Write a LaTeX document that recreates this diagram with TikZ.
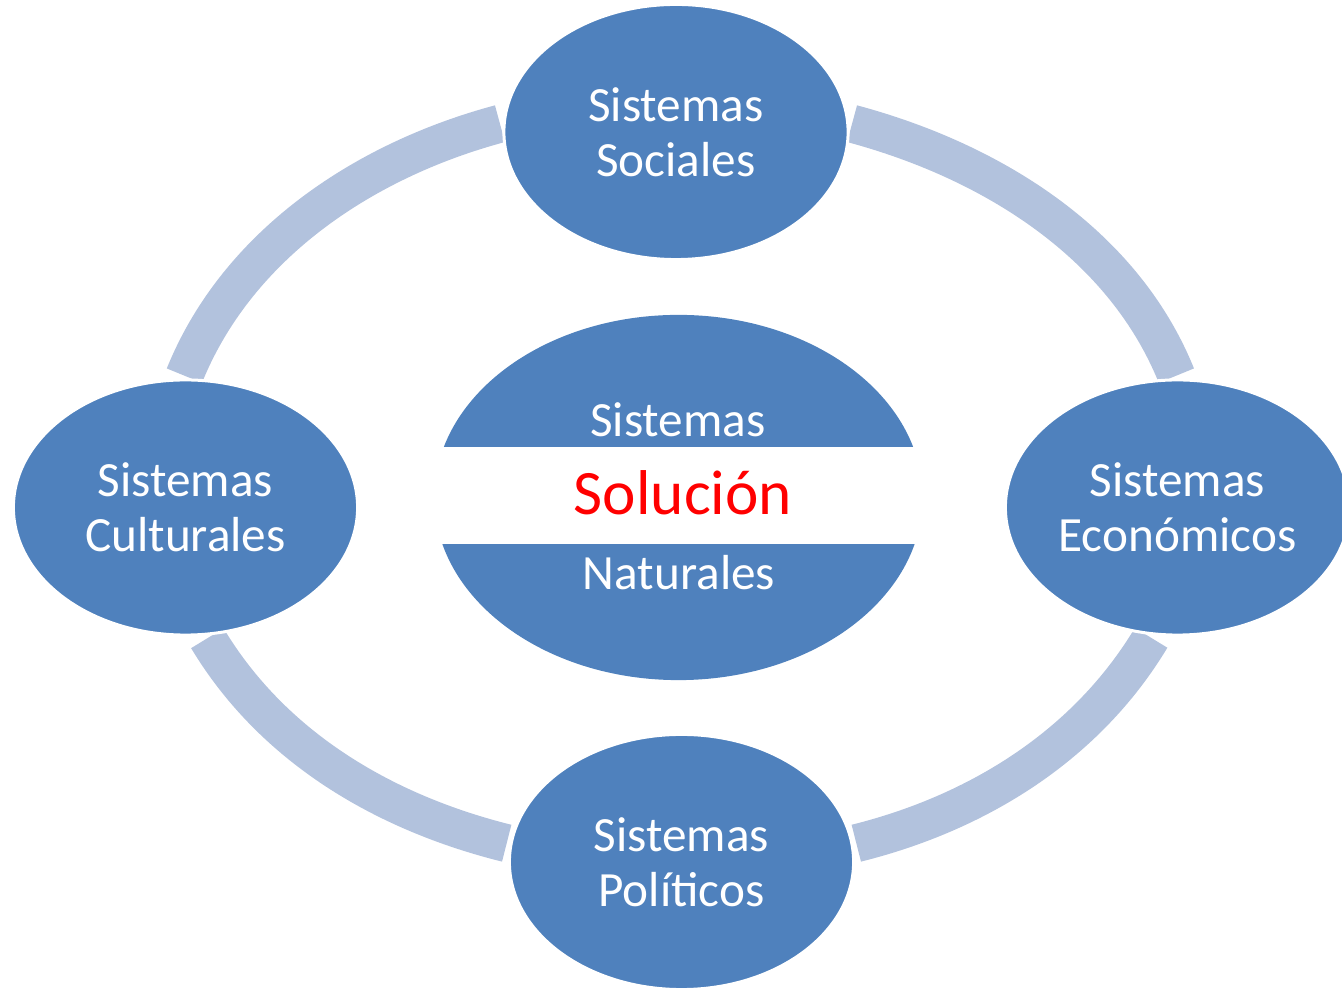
\documentclass[tikz,border=0pt]{standalone}
\usepackage{fontspec}
\setmainfont{Carlito}
\usetikzlibrary{shapes.geometric,backgrounds,positioning}
\definecolor{nodeblue}{HTML}{4F81BD}
\definecolor{ringblue}{HTML}{B2C2DD}
\begin{document}
\begin{tikzpicture}[
		x=0.01cm, y=-0.01cm,
		sys/.style={ellipse,fill=nodeblue,draw=white,line width=0.03cm,
			minimum width=3.44cm,minimum height=2.55cm,inner sep=0pt,
			text=white,align=center,font=\fontsize{14}{15.6}\selectfont},
		link/.style={draw=ringblue,line width=0.38cm,looseness=0.9,
			shorten >=0.03cm,shorten <=0.03cm},
		lbl/.style={anchor=base,text=white,inner sep=0pt,
			font=\fontsize{14}{15.6}\selectfont}
		]
		\useasboundingbox (0,0) rectangle (1342,989);
		\node[sys] (soc) at (676,132) {Sistemas\\Sociales};
		\node[sys] (cul) at (185.5,507.5) {Sistemas\\Culturales};
		\node[sys] (eco) at (1177.5,507.5) {Sistemas\\Económicos};
		\node[sys] (pol) at (681.5,862) {Sistemas\\Políticos};
		
		\begin{scope}[on background layer]
			\draw[link] (soc.177) to[out=195,in=68] (cul.91);
			\draw[link] (cul.279) to[out=301,in=166] (pol.174);
			\draw[link] (pol.6) to[out=14,in=239] (eco.259);
			\draw[link] (eco.90) to[out=112,in=-15] (soc.3);
		\end{scope}
		
		% centre
		\node[ellipse,fill=nodeblue,inner sep=0pt,minimum width=4.88cm,minimum height=3.65cm] (nat) at (678.5,497.5) {};
		\node[fill=white,minimum width=5.2cm,minimum height=0.97cm] (band) at (678.5,495.5) {};
		\node[lbl] (nattop) at (678,437) {Sistemas};
		\node[lbl,text=red,font=\fontsize{18}{20}\selectfont] (sol) at (683,515) {Solución};
		\node[lbl] (natbot) at (679,590) {Naturales};
	\end{tikzpicture}
\end{document}
